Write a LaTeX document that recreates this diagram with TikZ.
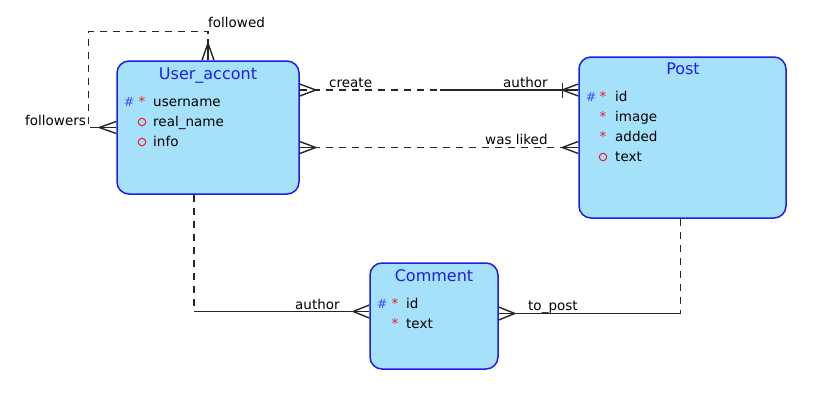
\documentclass[tikz,border=0pt]{standalone}
\usepackage{fontspec}
\setmainfont{DejaVu Sans}
\usetikzlibrary{positioning}
\definecolor{entfill}{RGB}{166,225,252}
\definecolor{entline}{RGB}{30,30,225}
\definecolor{pkblue}{RGB}{70,70,255}
\definecolor{mandred}{RGB}{240,30,30}

\begin{document}
\begin{tikzpicture}[x=1pt,y=-1pt,
  entity/.style={draw=entline, fill=entfill, line width=1.5pt, rounded corners=12pt, inner sep=0pt},
  title/.style={anchor=base, text=entline, inner sep=0pt, font=\fontsize{16}{19}\selectfont},
  attr/.style={anchor=base west, inner sep=0pt, font=\fontsize{13.5}{16}\selectfont},
  pk/.style={anchor=base, text=pkblue, inner sep=0pt, font=\fontsize{12.5}{14}\selectfont},
  mand/.style={anchor=base, text=mandred, inner sep=0pt, font=\fontsize{13.5}{16}\selectfont},
  opt/.style={draw=mandred, circle, minimum size=7.5pt, inner sep=0pt, line width=1pt},
  rel/.style={line width=1.4pt, black!85},
  optrel/.style={rel, dash pattern=on 7pt off 6pt},
  lbl/.style={anchor=base west, inner sep=0pt, font=\fontsize{13.5}{16}\selectfont}]
\useasboundingbox (0,0) rectangle (832,413);

% entities
\node [entity, minimum width=182pt, minimum height=133pt] (user) at (208,127.5) {};
\node [entity, minimum width=207pt, minimum height=161pt] (post) at (682.5,137.5) {};
\node [entity, minimum width=128pt, minimum height=106pt] (comment) at (434,316) {};

% User_accont
\node [title] (usertitle) at (208,79) {User\_accont};
\node [pk] (userpk) at (129,106) {\#};
\node [mand] (userm1) at (142,106) {*};
\node [attr] (usera1) at (153,106) {username};
\node [opt] (usero2) at (142,122) {};
\node [attr] (usera2) at (153,126) {real\_name};
\node [opt] (usero3) at (142,142) {};
\node [attr] (usera3) at (153,146) {info};

% Post
\node [title] (posttitle) at (683,74) {Post};
\node [pk] (postpk) at (591,101) {\#};
\node [mand] (postm1) at (603,101) {*};
\node [attr] (posta1) at (615,101) {id};
\node [mand] (postm2) at (603,121) {*};
\node [attr] (posta2) at (615,121) {image};
\node [mand] (postm3) at (603,141) {*};
\node [attr] (posta3) at (615,141) {added};
\node [opt] (posto4) at (603,157) {};
\node [attr] (posta4) at (615,161) {text};

% Comment
\node [title] (commenttitle) at (434,281) {Comment};
\node [pk] (commentpk) at (382,308) {\#};
\node [mand] (commentm1) at (395,308) {*};
\node [attr] (commenta1) at (406,308) {id};
\node [mand] (commentm2) at (395,328) {*};
\node [attr] (commenta2) at (406,328) {text};

% followed / followers
\draw [optrel] (user.north) -- ++(0,-29) -| ([xshift=-28pt]user.west) -- (user.west);
\draw [rel] (user.north) -- ([yshift=21pt]user.north);
\draw [rel] ([xshift=-6pt]user.north) -- ([yshift=17pt]user.north) -- ([xshift=6pt]user.north);
\draw [rel] (user.west) -- ([xshift=-20pt]user.west);
\draw [rel] ([yshift=6pt]user.west) -- ([xshift=-17pt]user.west) -- ([yshift=-6pt]user.west);
\node [lbl] (lfollowed) at (208,27.5) {followed};
\node [lbl] (lfollowers) at (25,125) {followers};

% create / author
\coordinate (ucreate) at (user.east |- 0,90);
\coordinate (pauthor) at (post.west |- 0,90);
\coordinate (mcreate) at (440,90);
\draw [optrel] (ucreate) -- (mcreate);
\draw [rel] (mcreate) -- (pauthor);
\draw [rel] ([yshift=6pt]ucreate) -- ([xshift=16pt]ucreate) -- ([yshift=-6pt]ucreate);
\draw [rel] ([yshift=6pt]pauthor) -- ([xshift=-16pt]pauthor) -- ([yshift=-6pt]pauthor);
\draw [rel] ([xshift=-16pt,yshift=7.5pt]pauthor) -- ([xshift=-16pt,yshift=-7.5pt]pauthor);
\node [lbl] (lcreate) at (329,87) {create};
\node [lbl] (lauthor) at (503,87) {author};

% was liked
\coordinate (uliked) at (user.east |- 0,147.5);
\coordinate (pliked) at (post.west |- 0,147.5);
\draw [optrel] (uliked) -- (pliked);
\draw [rel] (uliked) -- ([xshift=16pt]uliked);
\draw [rel] ([yshift=6pt]uliked) -- ([xshift=16pt]uliked) -- ([yshift=-6pt]uliked);
\draw [rel] (pliked) -- ([xshift=-16pt]pliked);
\draw [rel] ([yshift=6pt]pliked) -- ([xshift=-16pt]pliked) -- ([yshift=-6pt]pliked);
\node [lbl] (lliked) at (485,144) {was liked};

% author of comment
\coordinate (uauthor) at ([xshift=-14pt]user.south);
\coordinate (cauthor) at (comment.west |- 0,311.5);
\draw [optrel] (uauthor) -- (uauthor |- cauthor);
\draw [rel] (uauthor |- cauthor) -- (cauthor);
\draw [rel] ([yshift=6.5pt]cauthor) -- ([xshift=-16pt]cauthor) -- ([yshift=-6.5pt]cauthor);
\node [lbl] (lcauthor) at (295,309) {author};

% to_post
\coordinate (ppost) at ([xshift=-2pt]post.south);
\coordinate (cpost) at (comment.east |- 0,313.5);
\draw [optrel] (ppost) -- (ppost |- cpost);
\draw [rel] (ppost |- cpost) -- (cpost);
\draw [rel] ([yshift=6.5pt]cpost) -- ([xshift=16pt]cpost) -- ([yshift=-6.5pt]cpost);
\node [lbl] (ltopost) at (528,310.5) {to\_post};
\end{tikzpicture}
\end{document}
